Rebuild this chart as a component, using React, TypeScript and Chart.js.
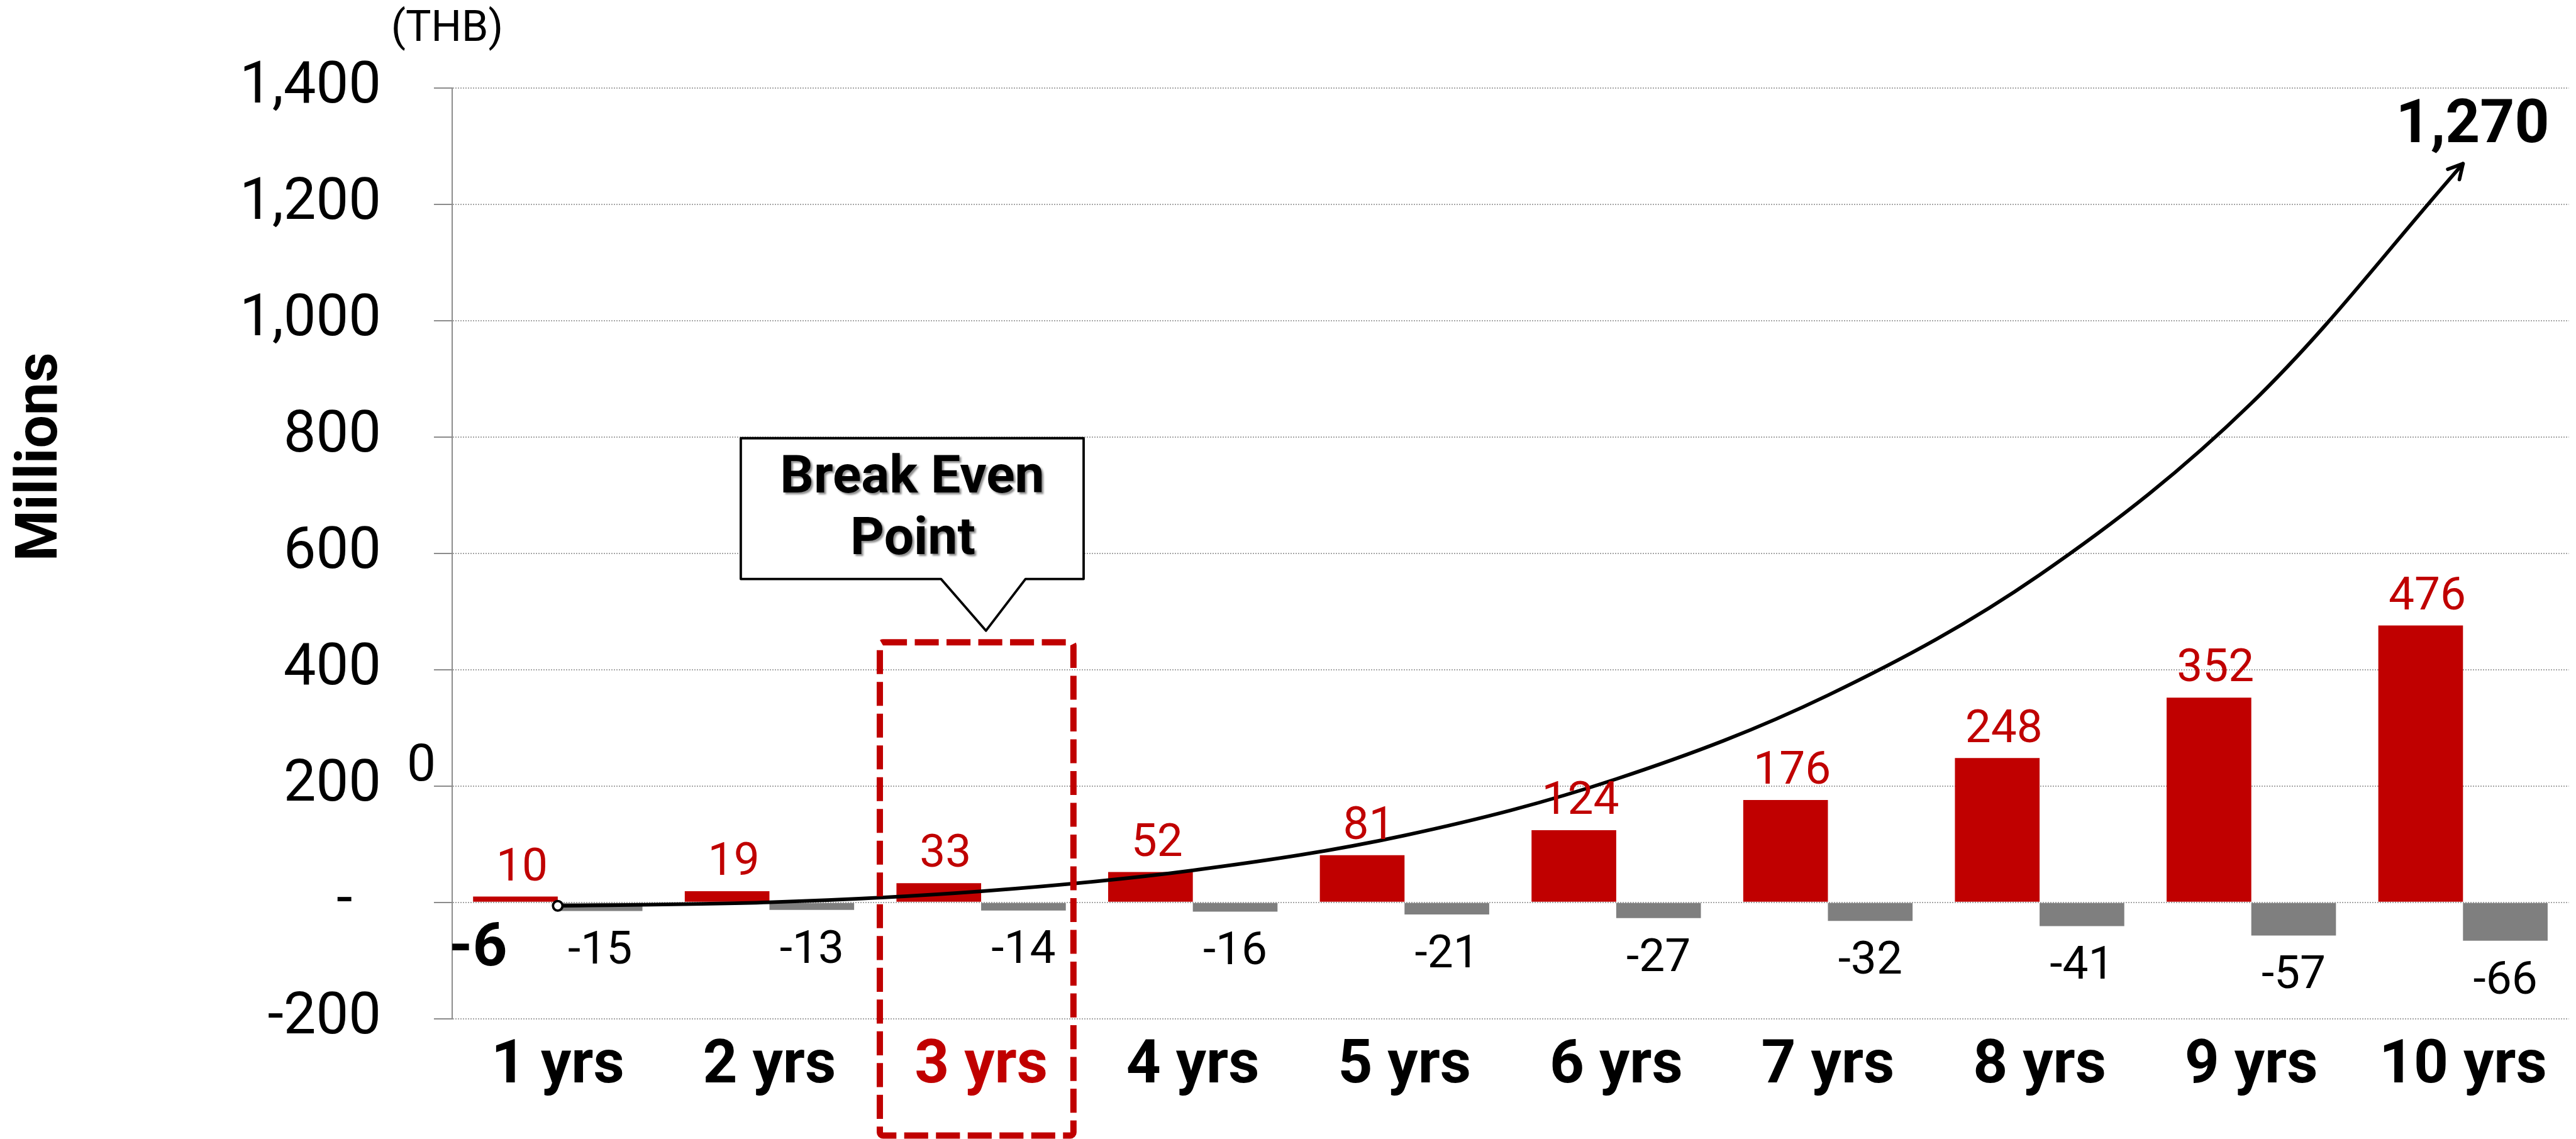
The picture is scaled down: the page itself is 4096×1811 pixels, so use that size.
import React, { useEffect, useRef } from 'react';
import { Chart, registerables } from 'chart.js';

Chart.register(...registerables);

const S = 0.953;
const W = 4096;
const H = 1811;
const FONT = 'Roboto, "Liberation Sans", Arial, sans-serif';
const RED = '#c00000';
const GRAY = '#7f7f7f';

const categories = ['1 yrs', '2 yrs', '3 yrs', '4 yrs', '5 yrs', '6 yrs', '7 yrs', '8 yrs', '9 yrs', '10 yrs'];
const revenueValues = [10, 19, 33, 52, 81, 124, 176, 248, 352, 476];
const costValues = [-15, -13, -14, -16, -21, -27, -32, -41, -57, -66];
const cumulativeValues = [-6, 0, 19, 55, 115, 212, 356, 563, 858, 1270];
const yTickValues = [-200, 0, 200, 400, 600, 800, 1000, 1200, 1400];
const highlightIndex = 2;
const unitLabel = '(THB)';
const axisTitle = 'Millions';
const calloutLines = ['Break Even', 'Point'];
const strayLabel = '0';

const fmt = (v: number) => v.toLocaleString('en-US');

const annotationPlugin = {
  id: 'annotations',
  afterDatasetsDraw(chart: any) {
    const ctx = chart.ctx as CanvasRenderingContext2D;
    ctx.save();
    ctx.textAlign = 'center';
    ctx.textBaseline = 'alphabetic';
    // bar labels
    ctx.font = `400 73px ${FONT}`;
    ctx.fillStyle = RED;
    chart.getDatasetMeta(0).data.forEach((bar: any, i: number) => {
      ctx.fillText(fmt(revenueValues[i]), bar.x + 11 * S, bar.y - 27 * S);
    });
    ctx.fillStyle = '#000';
    chart.getDatasetMeta(1).data.forEach((bar: any, i: number) => {
      ctx.fillText(fmt(costValues[i]), bar.x, bar.y + 88 * S);
    });
    // line labels
    const pts = chart.getDatasetMeta(2).data;
    const p0 = pts[0];
    const pl = pts[pts.length - 1];
    ctx.font = `700 96px ${FONT}`;
    ctx.fillText(fmt(cumulativeValues[0]), p0.x - 133 * S, p0.y + 99 * S);
    ctx.fillText(fmt(cumulativeValues[cumulativeValues.length - 1]), pl.x + 16 * S, pl.y - 36 * S);
    // arrow head
    const prev = pts[pts.length - 2];
    const ang = Math.atan2(pl.y - prev.y, pl.x - prev.x);
    const len = 27 * S;
    const spread = 0.5;
    ctx.strokeStyle = '#000';
    ctx.lineWidth = 5.7;
    ctx.lineCap = 'round';
    ctx.lineJoin = 'round';
    ctx.beginPath();
    ctx.moveTo(pl.x - len * Math.cos(ang - spread), pl.y - len * Math.sin(ang - spread));
    ctx.lineTo(pl.x, pl.y);
    ctx.lineTo(pl.x - len * Math.cos(ang + spread), pl.y - len * Math.sin(ang + spread));
    ctx.stroke();
    ctx.restore();
  },
  afterDraw(chart: any) {
    const ctx = chart.ctx as CanvasRenderingContext2D;
    const xs = chart.scales.x;
    const ys = chart.scales.y;
    const area = chart.chartArea;
    const cx3 = xs.getPixelForValue(highlightIndex);
    ctx.save();

    // stray zero label
    ctx.fillStyle = '#000';
    ctx.textAlign = 'center';
    ctx.textBaseline = 'alphabetic';
    ctx.font = `400 82px ${FONT}`;
    ctx.fillText(strayLabel, area.left - 51 * S, ys.getPixelForValue(200) - 9.5 * S);

    // unit label
    ctx.textBaseline = 'middle';
    ctx.font = `400 68px ${FONT}`;
    ctx.fillText(unitLabel, area.left - 8 * S, area.top - 97 * S);

    // axis title
    ctx.save();
    ctx.translate(70 * S, ys.getPixelForValue(766));
    ctx.rotate(-Math.PI / 2);
    ctx.font = `700 93px ${FONT}`;
    ctx.fillText(axisTitle, 0, 0);
    ctx.restore();

    // callout
    const bl = cx3 - 401 * S;
    const br = cx3 + 171 * S;
    const bt = ys.getPixelForValue(798);
    const bb = ys.getPixelForValue(556);
    ctx.beginPath();
    ctx.moveTo(bl, bt);
    ctx.lineTo(br, bt);
    ctx.lineTo(br, bb);
    ctx.lineTo(cx3 + 74 * S, bb);
    ctx.lineTo(cx3 + 8 * S, ys.getPixelForValue(467));
    ctx.lineTo(cx3 - 67 * S, bb);
    ctx.lineTo(bl, bb);
    ctx.closePath();
    ctx.fillStyle = '#fff';
    ctx.fill();
    ctx.lineWidth = 3.8;
    ctx.lineJoin = 'round';
    ctx.strokeStyle = '#000';
    ctx.stroke();

    ctx.save();
    ctx.shadowColor = 'rgba(0,0,0,0.45)';
    ctx.shadowOffsetX = 3;
    ctx.shadowOffsetY = 3;
    ctx.shadowBlur = 3;
    ctx.fillStyle = '#000';
    ctx.font = `700 84px ${FONT}`;
    ctx.textBaseline = 'middle';
    ctx.fillText(calloutLines[0], cx3 - 115 * S, ys.getPixelForValue(727));
    ctx.fillText(calloutLines[1], cx3 - 114 * S, ys.getPixelForValue(622));
    ctx.restore();

    // red dashed highlight
    ctx.setLineDash([40 * S, 13 * S]);
    ctx.lineWidth = 10.5 * S;
    ctx.strokeStyle = RED;
    ctx.lineJoin = 'miter';
    const rl = cx3 - 169 * S;
    const rr = cx3 + 154 * S;
    const rt = ys.getPixelForValue(447);
    const rb = area.bottom + 195 * S;
    ctx.beginPath();
    if ((ctx as any).roundRect) {
      (ctx as any).roundRect(rl, rt, rr - rl, rb - rt, 5);
    } else {
      ctx.rect(rl, rt, rr - rl, rb - rt);
    }
    ctx.stroke();
    ctx.restore();
  },
};

export default function App() {
  const ref = useRef<HTMLCanvasElement | null>(null);
  useEffect(() => {
    if (!ref.current) return;
    const chart = new Chart(ref.current, {
      type: 'bar',
      data: {
        labels: categories,
        datasets: [
          {
            type: 'bar',
            label: 'Revenue',
            data: revenueValues,
            backgroundColor: RED,
            borderWidth: 0,
            categoryPercentage: 0.8,
            barPercentage: 1,
            order: 1,
          },
          {
            type: 'bar',
            label: 'Cost',
            data: costValues,
            backgroundColor: GRAY,
            borderWidth: 0,
            categoryPercentage: 0.8,
            barPercentage: 1,
            order: 1,
          },
          {
            type: 'line',
            label: 'Cumulative',
            data: cumulativeValues,
            borderColor: '#000',
            borderWidth: 5.7,
            tension: 0.35,
            fill: false,
            borderCapStyle: 'round',
            pointRadius: cumulativeValues.map((_, i) => (i === 0 ? 7.6 : 0)),
            pointBackgroundColor: '#fff',
            pointBorderColor: '#000',
            pointBorderWidth: 3.8,
            order: 0,
          },
        ] as any,
      },
      options: {
        responsive: false,
        animation: false,
        devicePixelRatio: 1,
        layout: { padding: { left: 0, top: 147 * S, right: W - 4290 * S, bottom: 0 } },
        plugins: { legend: { display: false }, tooltip: { enabled: false } },
        scales: {
          x: {
            ticks: {
              color: (c: any) => (c.index === highlightIndex ? RED : '#000'),
              font: { family: FONT, size: 96, weight: 'bold' },
              padding: 20,
              autoSkip: false,
              maxRotation: 0,
            },
            grid: { display: false, drawTicks: false },
            border: { display: false },
            afterFit: (s: any) => {
              s.height = H - 1699.5 * S;
            },
          },
          y: {
            min: -200,
            max: 1400,
            afterBuildTicks: (s: any) => {
              s.ticks = yTickValues.map((v) => ({ value: v }));
            },
            ticks: {
              callback: (v: any) => (Number(v) === 0 ? '-  ' : fmt(Number(v))),
              font: { family: FONT, size: 92, weight: 'normal' },
              color: '#000',
              padding: 84,
            },
            grid: {
              color: '#a6a6a6',
              lineWidth: 2,
              tickLength: 28.6,
              tickColor: '#8c8c8c',
              tickWidth: 2,
              tickBorderDash: [],
            },
            border: { display: true, color: '#8c8c8c', width: 2, dash: [2, 2] },
            afterFit: (s: any) => {
              s.width = 754 * S;
            },
          },
        },
      } as any,
      plugins: [annotationPlugin],
    });
    return () => chart.destroy();
  }, []);
  return (
    <div style={{ position: 'fixed', left: 0, top: 0, width: W, height: H, background: '#fff' }}>
      <canvas ref={ref} width={W} height={H} style={{ width: W, height: H, display: 'block' }} />
    </div>
  );
}
